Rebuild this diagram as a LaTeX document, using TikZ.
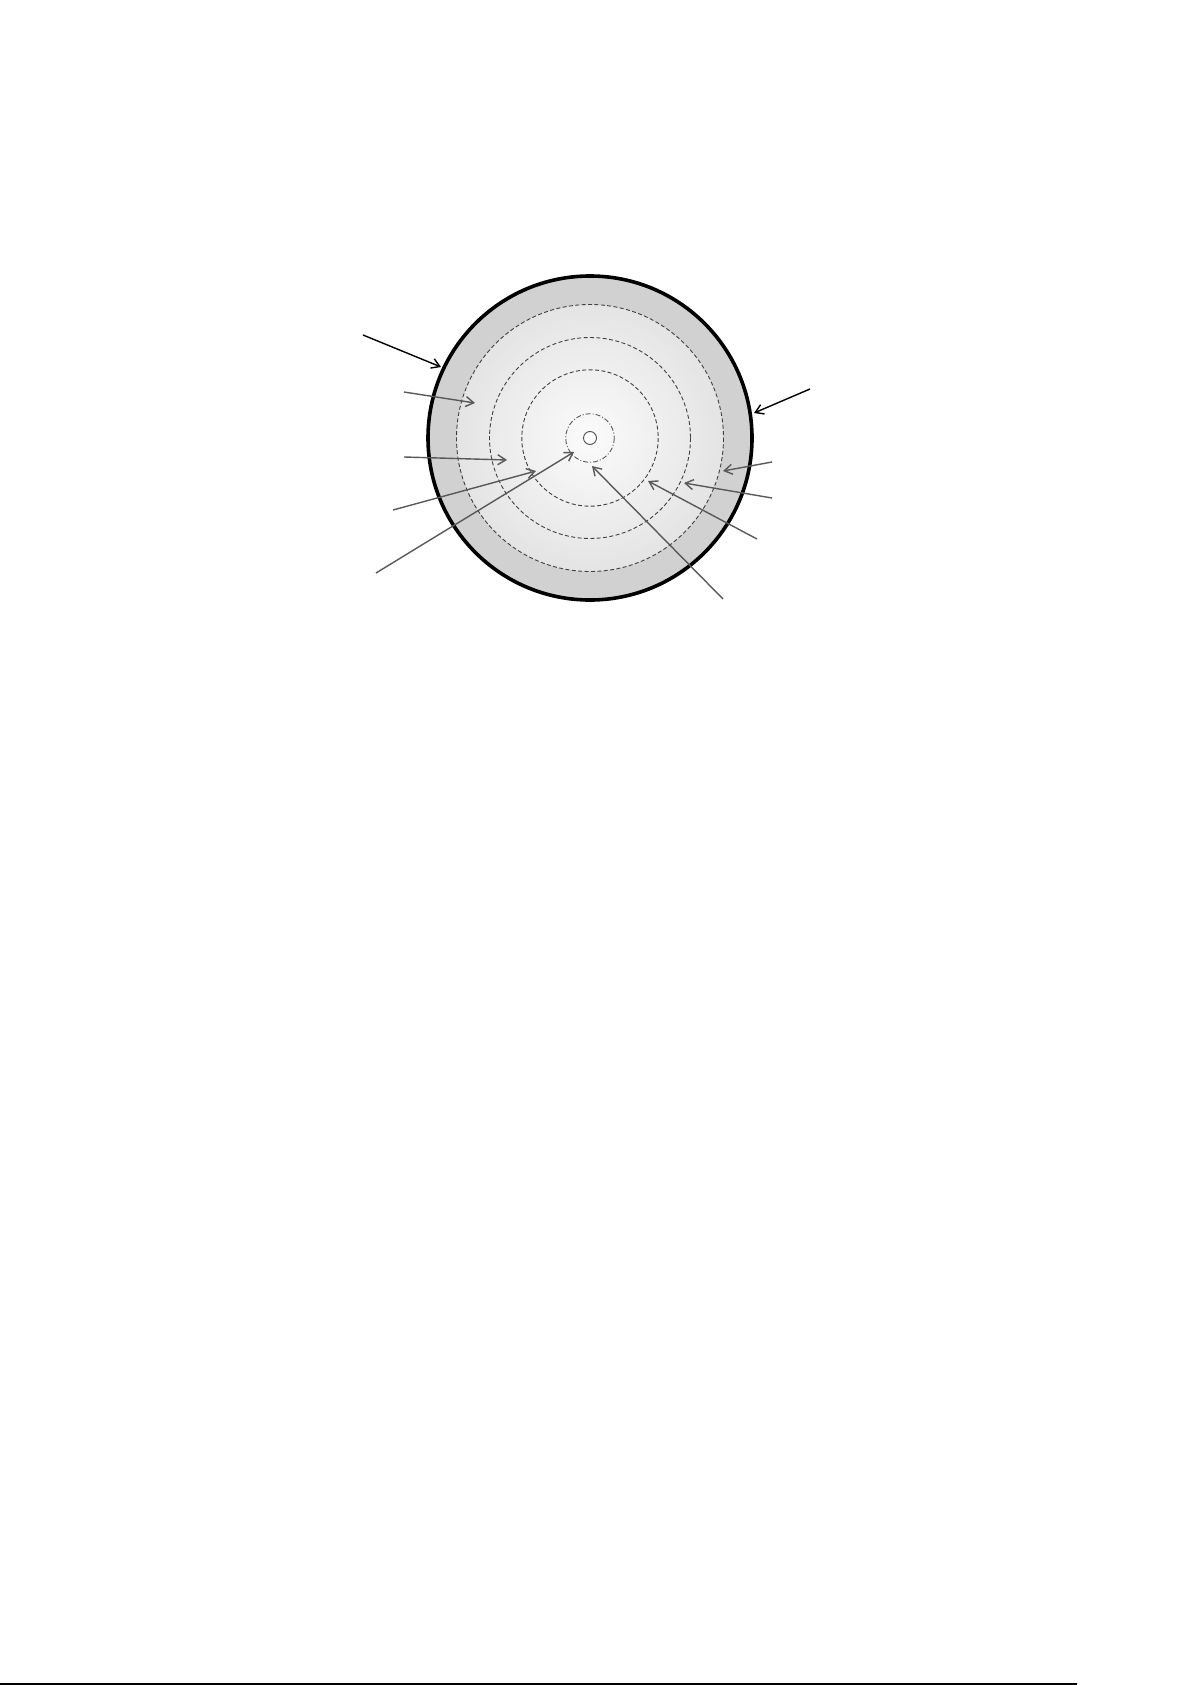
\documentclass[tikz,border=0pt]{standalone}
\usetikzlibrary{arrows.meta}
\begin{document}
\begin{tikzpicture}[x=0.5pt,y=-0.5pt,
  ringdash/.style={draw=black!75,line width=0.45pt,dash pattern=on 2pt off 1.2pt},
  ringdashdot/.style={draw=black!65,line width=0.45pt,dash pattern=on 2.5pt off 1pt on 0.5pt off 1pt},
  ptr/.style={line width=0.7pt,-{Straight Barb[length=4pt,width=5pt]}},
  ptrblack/.style={ptr,draw=black},
  ptrgray/.style={ptr,draw=black!65}]
\useasboundingbox (0,0) rectangle (1192,1685);
\coordinate (c) at (590,438);
% outer ring
\fill[black!18!white] (c) circle[x radius=162,y radius=162];
% inner gradient
\foreach \i in {0,...,60}{
  \pgfmathsetmacro{\rr}{133.5*(1-\i/60)}
  \pgfmathsetmacro{\pc}{9*(1-\i/60)+1.5}
  \fill[black!\pc!white] (c) circle[x radius=\rr,y radius=\rr];
}
\draw[line width=1.8pt] (c) circle[x radius=162,y radius=162];
\draw[ringdash] (c) circle[x radius=133.5,y radius=133.5];
\draw[ringdash] (c) circle[x radius=100.5,y radius=100.5];
\draw[ringdash] (c) circle[x radius=68.2,y radius=68.2];
\draw[ringdashdot] (c) circle[x radius=24.3,y radius=24.3];
\draw[black!70,line width=0.45pt,fill=white] (c) circle[x radius=6.5,y radius=6.5];
% arrow endpoints
\coordinate (s1) at (363,335); \coordinate (e1) at (441,367);
\coordinate (s2) at (404,392); \coordinate (e2) at (475,403);
\coordinate (s3) at (404,457); \coordinate (e3) at (507,460);
\coordinate (s4) at (393,510); \coordinate (e4) at (536,471);
\coordinate (s5) at (376,573); \coordinate (e5) at (574,452);
\coordinate (s6) at (810,389); \coordinate (e6) at (754,413);
\coordinate (s7) at (772,462); \coordinate (e7) at (723,471);
\coordinate (s8) at (772,498); \coordinate (e8) at (684,483);
\coordinate (s9) at (757,539); \coordinate (e9) at (648,481);
\coordinate (s10) at (723,599); \coordinate (e10) at (592,466);
\draw[ptrblack] (s1) -- (e1);
\draw[ptrgray] (s2) -- (e2);
\draw[ptrgray] (s3) -- (e3);
\draw[ptrgray] (s4) -- (e4);
\draw[ptrgray] (s5) -- (e5);
\draw[ptrblack] (s6) -- (e6);
\draw[ptrgray] (s7) -- (e7);
\draw[ptrgray] (s8) -- (e8);
\draw[ptrgray] (s9) -- (e9);
\draw[ptrgray] (s10) -- (e10);
% footer rule
\coordinate (f1) at (0,1683.8); \coordinate (f2) at (1077,1683.8);
\draw[line width=0.75pt] (f1) -- (f2);
\end{tikzpicture}
\end{document}
